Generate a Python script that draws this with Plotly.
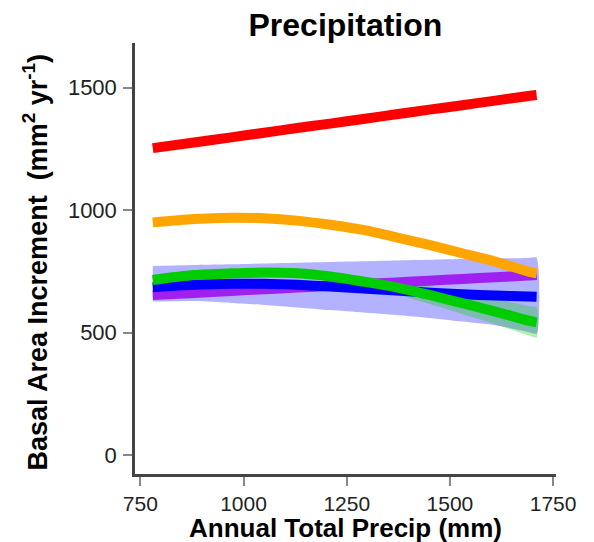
import plotly.graph_objects as go

# Annual total precipitation (mm) at which the fitted curves are evaluated
precip = [780, 880, 970, 1050, 1130, 1210, 1290, 1370, 1450, 1530, 1610, 1690, 1710]

# Fitted basal area increment (mm^2 yr^-1) for each group
bai_red = [1253, 1276, 1297, 1316, 1335, 1353, 1372, 1391, 1410, 1428, 1447, 1466, 1470]
bai_orange = [950, 964, 969, 967, 957, 940, 919, 889, 858, 824, 790, 749, 742]
bai_green = [715, 735, 742, 745, 742, 729, 708, 685, 654, 620, 586, 549, 542]
bai_blue = [685, 695, 699, 699, 695, 688, 680, 672, 663, 657, 651, 647, 646]
bai_purple = [654, 662, 670, 677, 684, 691, 698, 705, 712, 719, 726, 733, 735]

# Confidence bands
blue_lo = [627, 629, 621, 613, 603, 592, 582, 572, 560, 545, 530, 503, 496]
blue_hi = [772, 776, 779, 782, 785, 788, 791, 794, 797, 800, 803, 805, 806]
green_lo = [693, 719, 730, 733, 728, 712, 686, 657, 618, 576, 534, 489, 480]
green_hi = [737, 751, 754, 757, 756, 746, 730, 713, 690, 664, 638, 609, 604]

x_ticks = [750, 1000, 1250, 1500, 1750]
y_ticks = [0, 500, 1000, 1500]

FONT = "Liberation Sans, Arial"

fig = go.Figure()


def add_band(lo, hi, fill):
    fig.add_trace(go.Scatter(
        x=precip + precip[::-1], y=hi + lo[::-1],
        mode="lines", line=dict(width=0, shape="spline", smoothing=0.6),
        fill="toself", fillcolor=fill, hoverinfo="skip", showlegend=False))


add_band(blue_lo, blue_hi, "rgba(0,0,255,0.30)")
add_band(green_lo, green_hi, "rgba(0,205,0,0.30)")

for y, color in [(bai_purple, "#a020f0"), (bai_blue, "#0000ff"),
                 (bai_green, "#00cd00"), (bai_orange, "#ffa500"),
                 (bai_red, "#ff0000")]:
    fig.add_trace(go.Scatter(
        x=precip, y=y, mode="lines",
        line=dict(color=color, width=10, shape="spline", smoothing=0.8),
        showlegend=False))

axis_common = dict(
    showgrid=False, zeroline=False, showline=True, automargin=False,
    linecolor="#444444", linewidth=2.5,
    ticks="outside", ticklen=9, tickwidth=1.5, tickcolor="#888888",
)

fig.update_layout(
    width=594, height=542,
    margin=dict(l=135, r=38, t=43, b=68),
    plot_bgcolor="white", paper_bgcolor="white",
    title=dict(text="<b>Precipitation</b>", x=0.5815, xanchor="center",
               y=0.955, yanchor="middle", yref="container",
               font=dict(family=FONT, size=32, color="black")),
    xaxis=dict(range=[737, 1757], tickvals=x_ticks, ticklabelstandoff=0,
               tickfont=dict(family=FONT, size=21, color="#222222"),
               **axis_common),
    yaxis=dict(range=[-77, 1682], tickvals=y_ticks, ticklabelstandoff=2,
               tickfont=dict(family=FONT, size=22, color="#222222"),
               **axis_common),
    annotations=[
        dict(text="<b>Annual Total Precip (mm)</b>", xref="paper", yref="paper",
             x=0.5, y=0, xanchor="center", yanchor="middle", yshift=-54,
             showarrow=False, font=dict(family=FONT, size=26, color="black")),
        dict(text="<b>Basal Area Increment  (mm<sup>2</sup> yr<sup>-1</sup>)</b>",
             xref="paper", yref="paper", x=0, y=0.5, xanchor="center",
             yanchor="middle", xshift=-100, yshift=-4, textangle=-90,
             showarrow=False, font=dict(family=FONT, size=27, color="black")),
    ],
)

fig.write_html("out.html")
